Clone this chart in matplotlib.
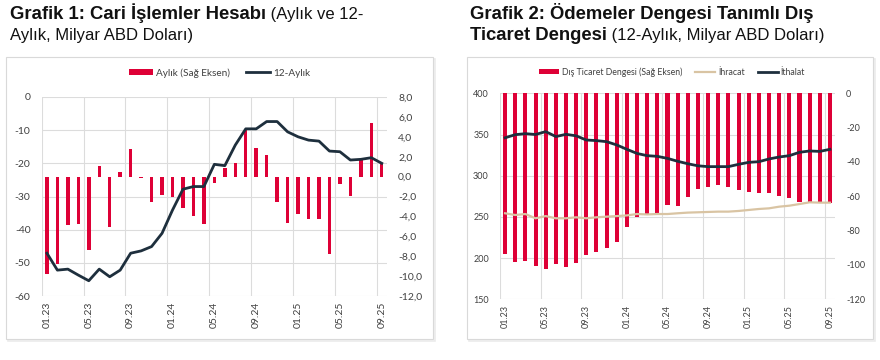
import matplotlib
matplotlib.use("Agg")
import matplotlib.pyplot as plt
from matplotlib.patches import Rectangle, Patch
from matplotlib.lines import Line2D
from matplotlib.ticker import FixedLocator, FuncFormatter

# ---------------- data ----------------
months = ["01.23", "02.23", "03.23", "04.23", "05.23", "06.23", "07.23", "08.23", "09.23", "10.23", "11.23", "12.23",
          "01.24", "02.24", "03.24", "04.24", "05.24", "06.24", "07.24", "08.24", "09.24", "10.24", "11.24", "12.24",
          "01.25", "02.25", "03.25", "04.25", "05.25", "06.25", "07.25", "08.25", "09.25"]

aylik = [-9.8, -8.8, -4.9, -4.8, -7.4, 1.1, -5.1, 0.5, 2.8, -0.1, -2.6, -1.8,
         -2.1, -3.2, -4.0, -4.8, -0.6, 0.85, 1.4, 4.7, 2.9, 2.2, -2.6, -4.7,
         -3.8, -4.3, -4.3, -7.8, -0.7, -1.9, 1.7, 5.4, 1.3]
on_iki_aylik = [-47.1, -52.2, -51.9, -53.7, -55.4, -51.9, -54.2, -52.2, -47.1, -46.4, -45.1, -41.1,
                -34.1, -27.8, -27.0, -27.0, -20.3, -20.7, -14.5, -9.6, -9.6, -7.4, -7.4, -10.5,
                -12.0, -13.0, -13.3, -16.3, -16.5, -19.0, -18.8, -18.3, -20.0]

dis_ticaret = [-93.6, -98.4, -97.7, -100.6, -102.5, -99.6, -101.0, -98.6, -94.2, -92.6, -89.9, -86.8,
               -78.1, -72.2, -70.3, -69.9, -65.1, -65.6, -60.2, -55.7, -54.8, -53.4, -54.4, -56.3,
               -57.3, -58.2, -58.2, -59.6, -60.8, -63.1, -63.1, -63.1, -64.1]
ihracat = [254.4, 252.3, 253.5, 248.3, 251.0, 248.3, 248.3, 249.5, 248.3, 249.5, 250.3, 251.0,
           251.8, 253.5, 253.0, 253.5, 253.5, 254.4, 255.2, 255.6, 256.0, 256.4, 256.4, 257.2,
           258.4, 259.6, 260.4, 262.4, 263.6, 265.6, 267.7, 267.3, 267.3]
ithalat = [346.0, 349.8, 351.0, 350.0, 353.5, 347.5, 350.2, 348.4, 343.3, 342.6, 341.3, 337.3,
           332.0, 327.0, 324.3, 323.5, 321.0, 317.5, 314.5, 312.0, 311.0, 311.0, 311.0, 313.8,
           316.2, 317.0, 320.3, 322.7, 324.3, 328.4, 330.0, 329.5, 332.0]

left1_ticks = [-60, -50, -40, -30, -20, -10, 0]
right1_ticks = [-12, -10, -8, -6, -4, -2, 0, 2, 4, 6, 8]
left2_ticks = [150, 200, 250, 300, 350, 400]
right2_ticks = [-120, -100, -80, -60, -40, -20, 0]

# ---------------- style ----------------
RED = "#DE0036"
NAVY = "#1E2F3D"
TAN = "#D9C4A3"
GRID = "#DCDCDC"
TXT = "#404040"
TICKFONT = "Lato"

W, H = 880, 360
fig = plt.figure(figsize=(W / 100, H / 100), dpi=100)

def fx(px):
    return px / W

def fy(py):
    return 1 - py / H

# panel boxes
for x0, x1 in [(6, 433), (467, 873)]:
    fig.patches.append(Rectangle((fx(x0 + 1.5), fy(339 + 1.5)), fx(x1 - x0), (339 - 57) / H,
                                 transform=fig.transFigure, facecolor="none", edgecolor="#EBEBEB",
                                 linewidth=1.2, zorder=-20))
    fig.patches.append(Rectangle((fx(x0), fy(339)), fx(x1 - x0), (339 - 57) / H,
                                 transform=fig.transFigure, facecolor="white", edgecolor="#D9D9D9",
                                 linewidth=0.8, zorder=-10))

x = list(range(len(months)))
major = list(range(0, len(months), 4))
minor = [m - 0.5 for m in major]


def setup_host(ax, yl, yticks, fs, fmt):
    ax.set_xlim(-0.5, len(months) - 0.5)
    ax.set_ylim(*yl)
    ax.set_yticks(yticks)
    ax.yaxis.set_major_formatter(FuncFormatter(fmt))
    ax.xaxis.set_major_locator(FixedLocator(major))
    ax.xaxis.set_minor_locator(FixedLocator(minor))
    ax.set_xticklabels([months[i] for i in major], rotation=90, fontsize=fs, color=TXT, family=TICKFONT)
    ax.tick_params(axis="x", which="both", length=0, pad=4)
    ax.tick_params(axis="y", length=0, pad=8, labelsize=fs, labelcolor=TXT)
    for lab in ax.get_yticklabels():
        lab.set_family(TICKFONT)
    ax.grid(axis="y", color=GRID, linewidth=0.8)
    ax.grid(axis="x", which="minor", color=GRID, linewidth=0.8)
    for s in ax.spines.values():
        s.set_visible(False)
    ax.set_facecolor("none")


def setup_twin(ax, yl, yticks, fs, fmt, show):
    ax.set_ylim(*yl)
    if show:
        ax.set_yticks(yticks)
        ax.yaxis.set_major_formatter(FuncFormatter(fmt))
        ax.tick_params(axis="y", length=0, pad=8, labelsize=fs, labelcolor=TXT)
        for lab in ax.get_yticklabels():
            lab.set_family(TICKFONT)
    else:
        ax.set_yticks([])
    ax.grid(False)
    for s in ax.spines.values():
        s.set_visible(False)
    ax.set_facecolor("none")


# ---------------- chart 1 ----------------
ax1 = fig.add_axes([fx(41.7), fy(296), fx(387 - 41.7), (296 - 97) / H])
setup_host(ax1, (-60, 0), left1_ticks, 7.5, lambda v, p: f"{v:.0f}")
ax1r = ax1.twinx()
setup_twin(ax1r, (-12, 8), right1_ticks, 7.5, lambda v, p: f"{v:.1f}".replace(".", ","), True)
ax1r.bar(x, aylik, width=0.33, color=RED, zorder=2)
ax1l = ax1.twinx()
setup_twin(ax1l, (-60, 0), None, 7.5, None, False)
ax1l.plot(x, on_iki_aylik, color=NAVY, linewidth=2.0, zorder=3)

h1 = [Patch(facecolor=RED, edgecolor="none"), Line2D([], [], color=NAVY, linewidth=2.0)]
fig.legend(h1, ["Aylık (Sağ Eksen)", "12-Aylık"], loc="center", bbox_to_anchor=(fx(220), fy(73)),
           ncol=2, frameon=False, prop={"family": TICKFONT, "size": 7.2}, labelcolor=TXT,
           handlelength=2.4, handleheight=0.6, columnspacing=1.6, handletextpad=0.3)

# ---------------- chart 2 ----------------
ax2 = fig.add_axes([fx(500), fy(299.3), fx(835 - 500), (299.3 - 93.3) / H])
setup_host(ax2, (150, 400), left2_ticks, 6.5, lambda v, p: f"{v:.0f}")
ax2r = ax2.twinx()
setup_twin(ax2r, (-120, 0), right2_ticks, 6.5, lambda v, p: f"{v:.0f}", True)
ax2r.bar(x, dis_ticaret, width=0.4, color=RED, zorder=2)
ax2l = ax2.twinx()
setup_twin(ax2l, (150, 400), None, 6.5, None, False)
ax2l.plot(x, ihracat, color=TAN, linewidth=1.6, zorder=3)
ax2l.plot(x, ithalat, color=NAVY, linewidth=2.0, zorder=3)

h2 = [Patch(facecolor=RED, edgecolor="none"), Line2D([], [], color=TAN, linewidth=1.6),
      Line2D([], [], color=NAVY, linewidth=2.0)]
fig.legend(h2, ["Dış Ticaret Dengesi (Sağ Eksen)", "İhracat", "İthalat"], loc="center",
           bbox_to_anchor=(fx(672), fy(72)), ncol=3, frameon=False,
           prop={"family": TICKFONT, "size": 6.3}, labelcolor=TXT,
           handlelength=2.3, handleheight=0.6, columnspacing=1.5, handletextpad=0.3)

# ---------------- titles ----------------
renderer = fig.canvas.get_renderer()
TFONT = "Liberation Sans"
TS_B = 13.3
TS_N = 12.0


def title_line(x_px, y_px, parts):
    xf = fx(x_px)
    for txt, weight in parts:
        t = fig.text(xf, fy(y_px), txt, fontsize=TS_B if weight == "bold" else TS_N,
                     fontweight=weight, family=TFONT, color="#111111", va="baseline", ha="left")
        bb = t.get_window_extent(renderer)
        xf = bb.x1 / W


title_line(10, 19, [("Grafik 1: Cari İşlemler Hesabı", "bold"), (" (Aylık ve 12-", "normal")])
title_line(10, 40, [("Aylık, Milyar ABD Doları)", "normal")])
title_line(470, 19, [("Grafik 2: Ödemeler Dengesi Tanımlı Dış", "bold")])
title_line(470, 40, [("Ticaret Dengesi", "bold"), (" (12-Aylık, Milyar ABD Doları)", "normal")])

fig.savefig("out.png", dpi=100, facecolor="white")
